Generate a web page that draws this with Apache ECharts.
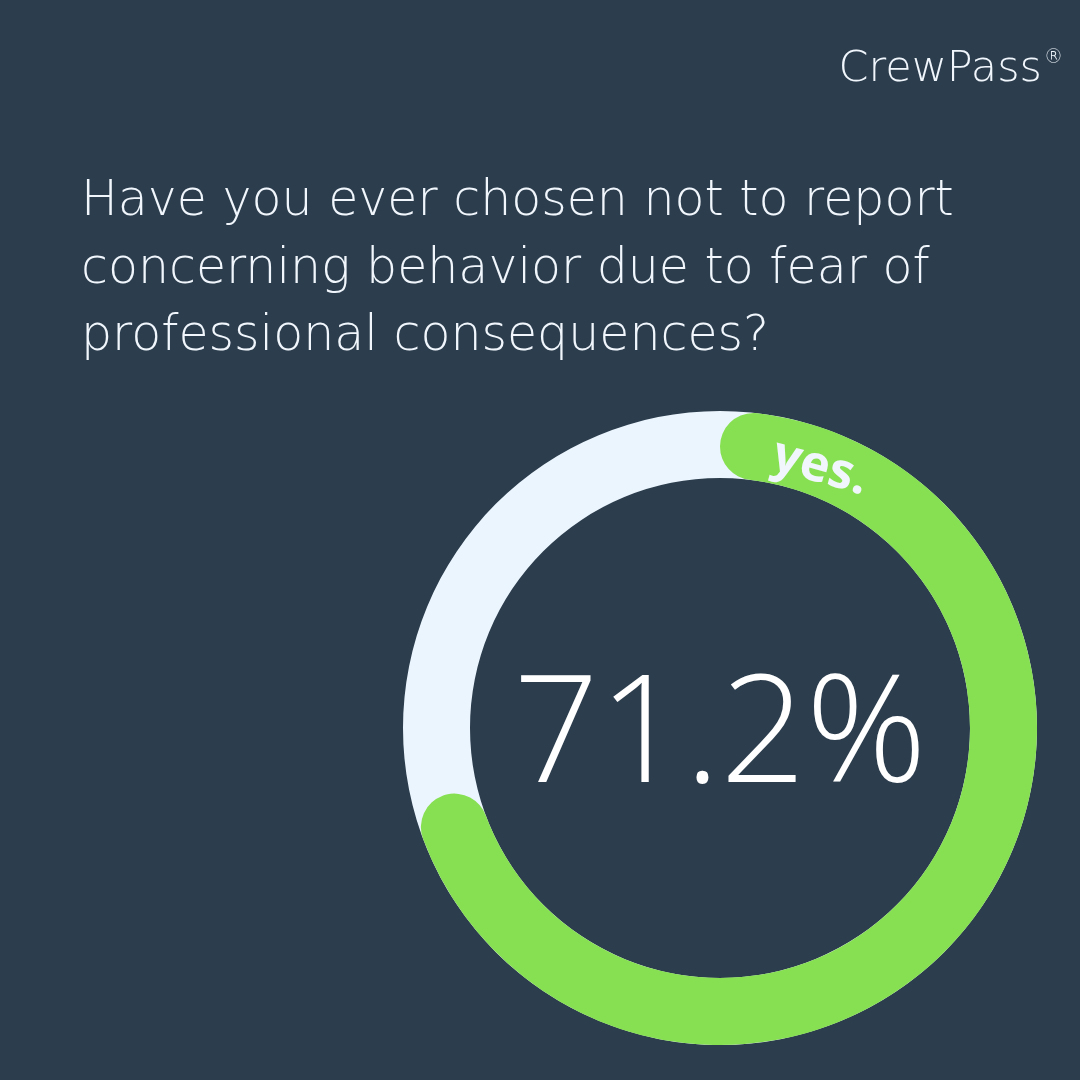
<!DOCTYPE html>
<html>
<head>
<meta charset="utf-8">
<script src="https://cdn.jsdelivr.net/npm/echarts@6/dist/echarts.min.js"></script>
<style>
html,body{margin:0;padding:0;background:#2c3d4d;}
#c{width:1080px;height:1080px;}
</style>
</head>
<body>
<div id="c"></div>
<script>
const categories = ['yes', 'no'];
const values = [71.2, 28.8];
const brand = 'CrewPass';
const titleLines = [
  'Have you ever chosen not to report',
  'concerning behavior due to fear of',
  'professional consequences?'
];
const centerLabel = values[0].toFixed(1) + '%';
const answerLabel = 'yes.';

const BG = '#2c3d4d';
const GREEN = '#87e051';
const LIGHT = '#ebf5fe';
const TXT = '#f0f6fc';
const FONT = '"Open Sans", sans-serif';
const TFONT = '"DejaVu Sans", sans-serif';

const chart = echarts.init(document.getElementById('c'), null, {renderer: 'canvas'});

const graphics = [];
titleLines.forEach((t, i) => {
  graphics.push({
    type: 'text', left: 81, top: 178 + i * 67.5,
    style: {text: t, fill: TXT, font: '200 49px ' + TFONT}
  });
});
graphics.push({
  type: 'text', x: 1063, y: 70,
  style: {
    text: brand + '{r|®}', fill: TXT, font: '200 43px ' + TFONT,
    align: 'right', verticalAlign: 'middle',
    rich: {r: {font: '200 19px ' + TFONT, fill: TXT, verticalAlign: 'top', padding: [0, 0, 20, 2]}}
  }
});
graphics.push({
  type: 'text', x: 720, y: 739,
  style: {text: centerLabel, fill: '#ffffff', font: '300 150px ' + FONT, align: 'center', verticalAlign: 'middle'}
});
graphics.push({
  type: 'text', x: 820, y: 468, rotation: -0.27,
  style: {text: answerLabel, fill: TXT, font: 'bold 50px ' + FONT, align: 'center', verticalAlign: 'middle'},
  z: 100
});

chart.setOption({
  backgroundColor: BG,
  animation: false,
  series: [
    {
      type: 'pie', silent: true, center: [720, 728], radius: [250, 317],
      label: {show: false}, labelLine: {show: false}, z: 1,
      data: [{value: 100, name: 'all', itemStyle: {color: LIGHT}}]
    },
    {
      type: 'pie', silent: true, center: [720, 728], radius: [250, 317],
      startAngle: 90, clockwise: true,
      label: {show: false}, labelLine: {show: false}, z: 2,
      itemStyle: {borderRadius: 34},
      data: categories.map((c, i) => ({
        name: c, value: values[i],
        itemStyle: {color: i === 0 ? GREEN : 'rgba(0,0,0,0)'}
      }))
    }
  ],
  graphic: graphics
});
</script>
</body>
</html>
